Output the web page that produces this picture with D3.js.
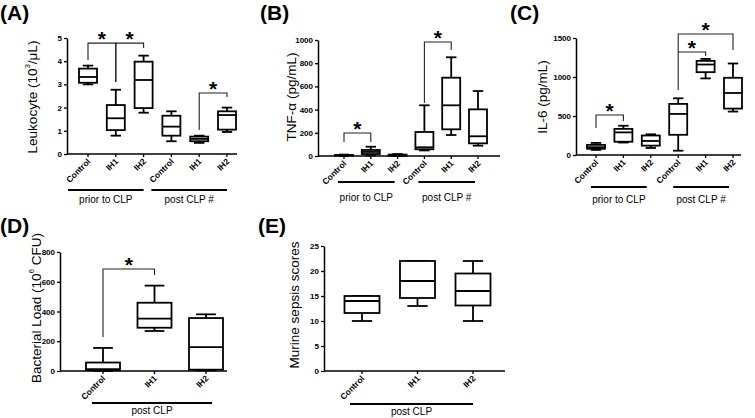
<!DOCTYPE html>
<html><head><meta charset="utf-8">
<script src="https://cdn.jsdelivr.net/npm/d3@7"></script>
<style>body{margin:0;background:#fff}svg{display:block}</style>
</head><body><svg id="c" width="755" height="418"></svg>
<script>
// ---------- data (box stats: [min, q1, median, q3, max]) ----------
const catsSix = ["Control", "IH1", "IH2", "Control", "IH1", "IH2"];
const catsThree = ["Control", "IH1", "IH2"];
const groupsSix = ["prior to CLP", "post CLP #"];
const groupsThree = ["post CLP"];

const leukocyte = [[3.0,3.07,3.32,3.68,3.81],[0.79,1.03,1.54,2.11,2.77],[1.78,1.98,3.19,3.98,4.24],
                   [0.55,0.79,1.18,1.65,1.84],[0.48,0.55,0.65,0.75,0.79],[0.95,1.05,1.68,1.84,2.0]];
const leukocyteTicks = [0,1,2,3,4,5];
const tnf = [[2,4,6,9,12],[5,17,35,52,80],[0,3,6,12,17],
             [48,58,75,207,437],[181,230,437,675,851],[89,109,170,402,560]];
const tnfTicks = [0,200,400,600,800,1000];
const il6 = [[65,80,100,130,155],[160,170,290,335,375],[90,120,180,250,265],
             [55,259,527,655,727],[982,1062,1160,1207,1232],[557,595,795,990,1173]];
const il6Ticks = [0,500,1000,1500];
const bacterial = [[0,5,12,57,155],[269,291,352,459,574],[4,9,161,356,381]];
const bacterialTicks = [0,200,400,600,800];
const sepsis = [[10,11.6,14,15,15],[13,14.6,18,22,22],[10,13.1,16,19.5,22]];
const sepsisTicks = [0,5,10,15,20,25];

// significance brackets: [fromIdx, toIdx, topValue, leftLegEnd, rightLegEnd]
const leukocyteSig = [[0,1,4.78,4.05,3.1],[1,2,4.78,3.1,4.57],[4,5,2.63,1.03,2.46]];
const tnfSig = [[0,1,198,121,121],[3,4,983,457,914]];
const il6Sig = [[0,1,513,346,436],[3,4,1321,833,1269],[3,5,1551,1321,1346]];
const bacterialSig = [[0,1,686,229,645]];
const sepsisSig = [];

// ---------- drawing ----------
const svg = d3.select("#c");
svg.append("rect").attr("width",755).attr("height",418).attr("fill","#fff");
const FONT = "'Liberation Sans', Arial, sans-serif";

function panel(cfg) {
  const g = svg.append("g");
  const n = cfg.cats.length;
  const y = d3.scaleLinear().domain([0, cfg.ymax]).range([cfg.yBottom, cfg.yTop]);
  const x = d3.scalePoint().domain(d3.range(n)).range([cfg.xFirst, cfg.xLast]);
  const bw = cfg.boxW, cw = bw * 0.58;

  // y axis
  const ya = g.append("g").attr("transform", `translate(${cfg.axisX},0)`)
    .call(d3.axisLeft(y).tickValues(cfg.ticks).tickFormat(d3.format("d"))
      .tickSize(3).tickSizeOuter(0).tickPadding(2));
  ya.select(".domain").attr("stroke","#000").attr("stroke-width",1.5);
  ya.selectAll(".tick line").attr("stroke","#000").attr("stroke-width",1.3);
  ya.selectAll(".tick text").attr("font-family",FONT).attr("font-weight","bold")
    .attr("font-size",8).attr("fill","#000");

  // x axis
  g.append("line").attr("x1",cfg.axisX).attr("x2",cfg.axisXEnd)
    .attr("y1",y(0)).attr("y2",y(0)).attr("stroke","#000").attr("stroke-width",1.5);
  g.selectAll(".xt").data(d3.range(n)).join("line")
    .attr("x1",i=>x(i)).attr("x2",i=>x(i)).attr("y1",y(0)).attr("y2",y(0)+3)
    .attr("stroke","#000").attr("stroke-width",1.3);

  // boxes
  const bg = g.selectAll(".bx").data(cfg.data).join("g");
  bg.append("line").attr("x1",(d,i)=>x(i)).attr("x2",(d,i)=>x(i))
    .attr("y1",d=>y(d[4])).attr("y2",d=>y(d[3])).attr("stroke","#000").attr("stroke-width",1.8);
  bg.append("line").attr("x1",(d,i)=>x(i)).attr("x2",(d,i)=>x(i))
    .attr("y1",d=>y(d[1])).attr("y2",d=>y(d[0])).attr("stroke","#000").attr("stroke-width",1.8);
  bg.append("line").attr("x1",(d,i)=>x(i)-cw/2).attr("x2",(d,i)=>x(i)+cw/2)
    .attr("y1",d=>y(d[4])).attr("y2",d=>y(d[4])).attr("stroke","#000").attr("stroke-width",1.8);
  bg.append("line").attr("x1",(d,i)=>x(i)-cw/2).attr("x2",(d,i)=>x(i)+cw/2)
    .attr("y1",d=>y(d[0])).attr("y2",d=>y(d[0])).attr("stroke","#000").attr("stroke-width",1.8);
  bg.append("rect").attr("x",(d,i)=>x(i)-bw/2).attr("width",bw)
    .attr("y",d=>y(d[3])).attr("height",d=>Math.max(0.5,y(d[1])-y(d[3])))
    .attr("fill","#fff").attr("stroke","#000").attr("stroke-width",1.8);
  bg.append("line").attr("x1",(d,i)=>x(i)-bw/2).attr("x2",(d,i)=>x(i)+bw/2)
    .attr("y1",d=>y(d[2])).attr("y2",d=>y(d[2])).attr("stroke","#000").attr("stroke-width",1.8);

  // category labels
  g.selectAll(".cl").data(cfg.cats).join("text")
    .attr("transform",(d,i)=>`translate(${x(i)+3},${y(0)+8}) rotate(-45)`)
    .attr("text-anchor","end").attr("font-family",FONT).attr("font-weight","bold")
    .attr("font-size",8.5).text(d=>d);

  // group lines + labels
  const per = n / cfg.groups.length;
  cfg.groups.forEach((gname, k) => {
    const a = x(k*per) - cfg.grpPadL, b = x(k*per+per-1) + cfg.grpPadR;
    g.append("line").attr("x1",a).attr("x2",b).attr("y1",cfg.grpY).attr("y2",cfg.grpY)
      .attr("stroke","#000").attr("stroke-width",2);
    g.append("text").attr("x",(a+b)/2).attr("y",cfg.grpY+cfg.grpDy).attr("text-anchor","middle")
      .attr("font-family",FONT).attr("font-size",10).text(gname);
  });

  // brackets
  cfg.sig.forEach(s => {
    const [i0,i1,top,l,r] = s;
    g.append("path").attr("d",`M${x(i0)},${y(l)}V${y(top)}H${x(i1)}V${y(r)}`)
      .attr("fill","none").attr("stroke","#222").attr("stroke-width",1.1);
    g.append("text").attr("x",(x(i0)+x(i1))/2).attr("y",y(top)+3).attr("text-anchor","middle")
      .attr("font-family",FONT).attr("font-weight","bold").attr("font-size",21).text("*");
  });

  // y label
  const yl = g.append("text")
    .attr("transform",`translate(${cfg.labX},${cfg.labY}) rotate(-90)`)
    .attr("text-anchor","middle").attr("dominant-baseline","middle")
    .attr("font-family",FONT).attr("font-size",13.5);
  cfg.ylabel.forEach(p => {
    const t = yl.append("tspan").text(p[0]);
    if (p[1]) t.attr("font-size",8).attr("dy",-5);
    else if (p[2]) t.attr("dy",5);
  });

  // panel label
  g.append("text").attr("x",cfg.pX).attr("y",cfg.pY).attr("font-family",FONT)
    .attr("font-weight","bold").attr("font-size",21).text(cfg.plabel);
}

panel({data:leukocyte,cats:catsSix,groups:groupsSix,sig:leukocyteSig,ticks:leukocyteTicks,ymax:5,
  yTop:38,yBottom:154,axisX:67,axisXEnd:237,xFirst:88,xLast:227,boxW:18,
  grpY:190,grpDy:13,grpPadL:20,grpPadR:0,labX:33,labY:97,
  ylabel:[["Leukocyte  (10"],["3",true],["/μL)",false,true]],pX:0,pY:20,plabel:"(A)"});
panel({data:tnf,cats:catsSix,groups:groupsSix,sig:tnfSig,ticks:tnfTicks,ymax:1000,
  yTop:40,yBottom:156,axisX:318,axisXEnd:500,xFirst:344,xLast:478,boxW:18,
  grpY:182,grpDy:19,grpPadL:6,grpPadR:-3,labX:292,labY:97,
  ylabel:[["TNF-α (pg/mL)"]],pX:260,pY:20,plabel:"(B)"});
panel({data:il6,cats:catsSix,groups:groupsSix,sig:il6Sig,ticks:il6Ticks,ymax:1500,
  yTop:38,yBottom:155,axisX:576,axisXEnd:741,xFirst:596,xLast:733,boxW:18,
  grpY:187,grpDy:16,grpPadL:5,grpPadR:-4,labX:543,labY:97,
  ylabel:[["IL-6 (pg/mL)"]],pX:510,pY:20,plabel:"(C)"});
panel({data:bacterial,cats:catsThree,groups:groupsThree,sig:bacterialSig,ticks:bacterialTicks,ymax:800,
  yTop:252,yBottom:371,axisX:60,axisXEnd:227,xFirst:103,xLast:206,boxW:34,
  grpY:403,grpDy:11,grpPadL:11,grpPadR:6,labX:37,labY:308,
  ylabel:[["Bacterial Load (10"],["6",true],[" CFU)",false,true]],pX:0,pY:233,plabel:"(D)"});
panel({data:sepsis,cats:catsThree,groups:groupsThree,sig:sepsisSig,ticks:sepsisTicks,ymax:25,
  yTop:246,yBottom:371,axisX:324,axisXEnd:505,xFirst:362,xLast:473,boxW:35,
  grpY:404,grpDy:11,grpPadL:12,grpPadR:0,labX:295,labY:305,
  ylabel:[["Murine sepsis scores"]],pX:258,pY:233,plabel:"(E)"});
</script></body></html>
